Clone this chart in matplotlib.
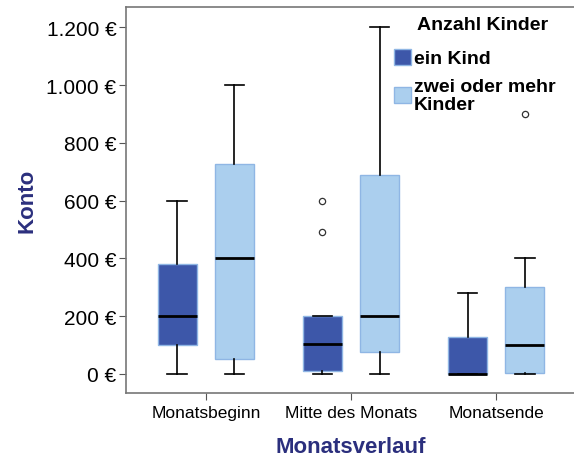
import matplotlib
matplotlib.use('Agg')
import matplotlib.pyplot as plt
from matplotlib.patches import Patch
from matplotlib.ticker import FuncFormatter

plt.rcParams['font.family'] = ['Liberation Sans', 'DejaVu Sans']

# Kontostand im Monatsverlauf, getrennt nach Anzahl Kinder
zeitpunkte = ['Monatsbeginn', 'Mitte des Monats', 'Monatsende']
gruppen = ['ein Kind', 'zwei oder mehr\nKinder']

# Kennwerte je Gruppe: unterer Whisker, Q1, Median, Q3, oberer Whisker, Ausreisser
ein_kind_whislo = [0, 0, 0]
ein_kind_q1 = [100, 10, 0]
ein_kind_med = [200, 105, 0]
ein_kind_q3 = [380, 200, 128]
ein_kind_whishi = [600, 200, 280]
ein_kind_fliers = [[], [490, 600], []]

mehr_kinder_whislo = [0, 0, 0]
mehr_kinder_q1 = [50, 75, 2]
mehr_kinder_med = [400, 200, 100]
mehr_kinder_q3 = [725, 690, 300]
mehr_kinder_whishi = [1000, 1200, 400]
mehr_kinder_fliers = [[], [], [900]]

dark_blue = '#3D57A9'
light_blue = '#ABCFEE'
edge_blue = '#8FB6E4'
navy = '#2B2F7D'


def make_stats(whislo, q1, med, q3, whishi, fliers):
    stats = []
    for i in range(len(med)):
        stats.append(dict(whislo=whislo[i], q1=q1[i], med=med[i], q3=q3[i],
                          whishi=whishi[i], fliers=fliers[i]))
    return stats


fig = plt.figure(figsize=(5.74, 4.6), dpi=100)
ax = fig.add_axes([0.2195, 0.1435, 0.784, 0.839])

offset = 0.197
width = 0.27
pos = list(range(len(zeitpunkte)))

groups = [
    (make_stats(ein_kind_whislo, ein_kind_q1, ein_kind_med, ein_kind_q3,
                ein_kind_whishi, ein_kind_fliers), -offset, dark_blue),
    (make_stats(mehr_kinder_whislo, mehr_kinder_q1, mehr_kinder_med,
                mehr_kinder_q3, mehr_kinder_whishi, mehr_kinder_fliers),
     offset, light_blue),
]
for stats, dx, col in groups:
    ax.bxp(stats, positions=[p + dx for p in pos], widths=width,
           patch_artist=True, showfliers=True,
           boxprops=dict(facecolor=col, edgecolor=edge_blue, linewidth=1),
           medianprops=dict(color='black', linewidth=2),
           whiskerprops=dict(color='black', linewidth=1.2),
           capprops=dict(color='black', linewidth=1.2),
           flierprops=dict(marker='o', markersize=4.5, markerfacecolor='white',
                           markeredgecolor='#333333', markeredgewidth=0.9))

ax.set_xlim(-0.55, 2.55)
ax.set_ylim(-66, 1270)
ax.set_xticks(pos)
ax.set_xticklabels(zeitpunkte, fontsize=12.5)
ax.set_yticks([0, 200, 400, 600, 800, 1000, 1200])
ax.yaxis.set_major_formatter(
    FuncFormatter(lambda v, p: '{:,.0f} €'.format(v).replace(',', '.')))
ax.tick_params(axis='y', labelsize=15, length=5, color='#555555', pad=2)
ax.tick_params(axis='x', length=5, color='#555555', pad=4)
for s in ['left', 'bottom', 'top', 'right']:
    ax.spines[s].set_color('#777777')
    ax.spines[s].set_linewidth(1.2)

ax.set_xlabel('Monatsverlauf', fontsize=16, fontweight='bold', color=navy,
              labelpad=11)
ax.set_ylabel('Konto', fontsize=16, fontweight='bold', color=navy,
              labelpad=6)

# Legende: Titel separat, damit der Abstand zu den Einträgen stimmt
fig.text(417 / 574, 1 - 25 / 460, 'Anzahl Kinder', fontsize=14,
         fontweight='bold', ha='left', va='center')
handles = [Patch(facecolor=dark_blue, edgecolor=edge_blue),
           Patch(facecolor=light_blue, edgecolor=edge_blue)]
leg = ax.legend(handles, gruppen, loc='upper left',
                bbox_to_anchor=(380 / 574, 1 - 36 / 460),
                bbox_transform=fig.transFigure, frameon=False,
                handlelength=0.9, handleheight=0.9,
                handletextpad=0.15, labelspacing=0.55, borderpad=0.2,
                prop=dict(size=14, weight='bold'))
for t in leg.get_texts():
    t.set_linespacing(1.05)

fig.savefig('out.png', dpi=100)
